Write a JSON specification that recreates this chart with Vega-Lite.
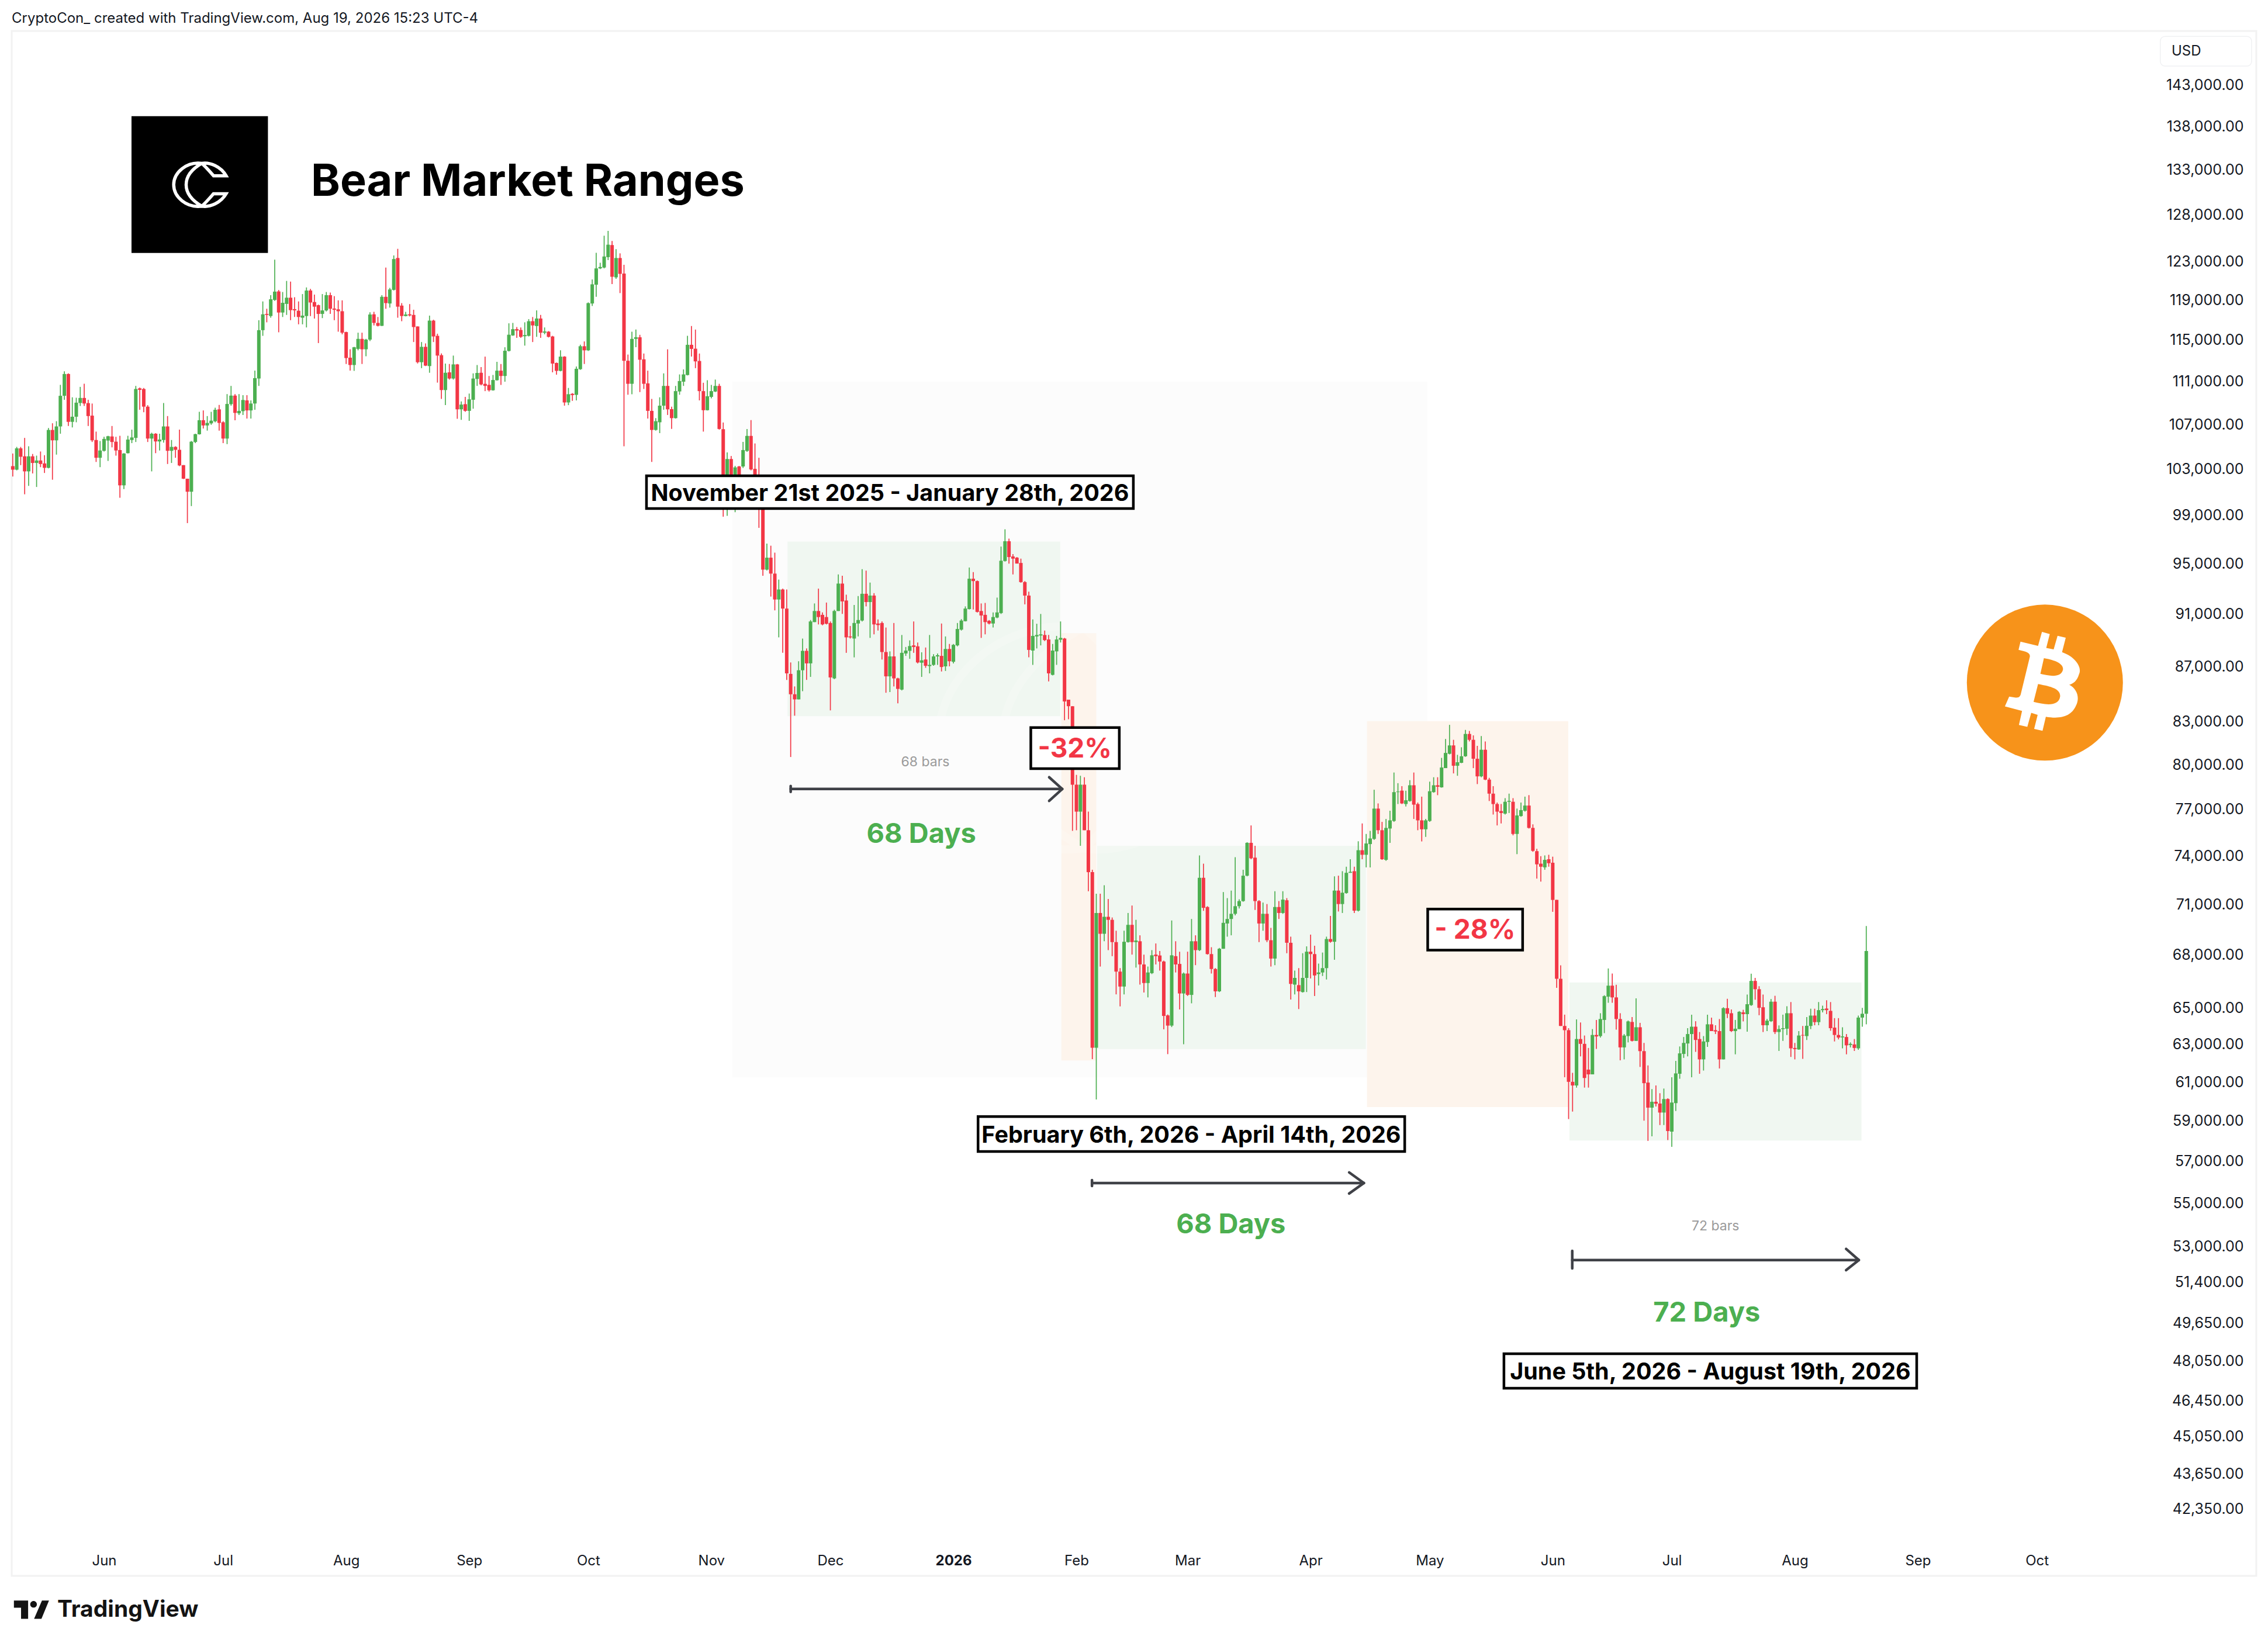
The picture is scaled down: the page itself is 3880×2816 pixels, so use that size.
{
"$schema":"https://vega.github.io/schema/vega-lite/v6.json",
"description":"Bitcoin daily candles with bear market ranges",
"width":3840,"height":2643,
"autosize":"none",
"padding":{"left":20,"top":53,"right":20,"bottom":120},
"background":"white",
"view":{"stroke":"#f2f2f2","strokeWidth":3,"fill":"white"},
"config":{"font":"Inter","text":{"font":"Inter"}},
"datasets":{
"candles":[
{"d":"2025-05-09","o":103150,"h":104270,"l":102240,"c":102840},
{"d":"2025-05-10","o":102840,"h":104860,"l":102780,"c":104730},
{"d":"2025-05-11","o":104730,"h":104860,"l":103240,"c":103980},
{"d":"2025-05-12","o":104020,"h":105670,"l":100700,"c":102690},
{"d":"2025-05-13","o":102690,"h":104920,"l":101420,"c":104020},
{"d":"2025-05-14","o":104020,"h":104230,"l":102510,"c":103430},
{"d":"2025-05-15","o":103430,"h":104080,"l":101330,"c":103650},
{"d":"2025-05-16","o":103650,"h":104450,"l":103060,"c":103340},
{"d":"2025-05-17","o":103390,"h":104120,"l":102550,"c":103000},
{"d":"2025-05-18","o":103000,"h":106560,"l":102960,"c":106390},
{"d":"2025-05-19","o":106390,"h":107000,"l":101960,"c":105450},
{"d":"2025-05-20","o":105450,"h":107190,"l":104170,"c":106710},
{"d":"2025-05-21","o":106710,"h":110570,"l":106050,"c":109540},
{"d":"2025-05-22","o":109540,"h":111860,"l":109170,"c":111600},
{"d":"2025-05-23","o":111600,"h":111660,"l":106750,"c":107130},
{"d":"2025-05-24","o":107130,"h":109400,"l":106620,"c":107600},
{"d":"2025-05-25","o":107600,"h":109360,"l":107090,"c":108900},
{"d":"2025-05-26","o":108870,"h":110380,"l":108590,"c":109340},
{"d":"2025-05-27","o":109340,"h":110670,"l":108590,"c":108820},
{"d":"2025-05-28","o":108860,"h":109170,"l":106750,"c":107660},
{"d":"2025-05-29","o":107700,"h":108820,"l":105300,"c":105450},
{"d":"2025-05-30","o":105480,"h":106240,"l":103520,"c":103890},
{"d":"2025-05-31","o":103890,"h":105390,"l":103060,"c":104540},
{"d":"2025-06-01","o":104510,"h":105770,"l":104450,"c":105580},
{"d":"2025-06-02","o":105430,"h":105860,"l":103610,"c":105820},
{"d":"2025-06-03","o":105800,"h":106750,"l":104820,"c":105300},
{"d":"2025-06-04","o":105330,"h":105770,"l":104080,"c":104540},
{"d":"2025-06-05","o":104580,"h":105860,"l":100400,"c":101470},
{"d":"2025-06-06","o":101470,"h":104300,"l":101150,"c":104270},
{"d":"2025-06-07","o":104300,"h":105860,"l":104270,"c":105520},
{"d":"2025-06-08","o":105480,"h":106420,"l":105200,"c":105710},
{"d":"2025-06-09","o":105670,"h":110470,"l":105300,"c":110180},
{"d":"2025-06-10","o":110240,"h":110320,"l":108240,"c":110100},
{"d":"2025-06-11","o":110180,"h":110280,"l":108010,"c":108530},
{"d":"2025-06-12","o":108530,"h":108670,"l":105300,"c":105610},
{"d":"2025-06-13","o":105610,"h":106140,"l":102690,"c":106050},
{"d":"2025-06-14","o":106050,"h":106100,"l":104300,"c":105350},
{"d":"2025-06-15","o":105350,"h":106050,"l":104540,"c":105520},
{"d":"2025-06-16","o":105480,"h":108860,"l":105240,"c":106710},
{"d":"2025-06-17","o":106710,"h":107660,"l":103340,"c":104510},
{"d":"2025-06-18","o":104510,"h":105480,"l":103430,"c":104860},
{"d":"2025-06-19","o":104860,"h":104920,"l":103890,"c":104600},
{"d":"2025-06-20","o":104600,"h":106420,"l":103150,"c":103210},
{"d":"2025-06-21","o":103240,"h":103240,"l":102020,"c":102050},
{"d":"2025-06-22","o":102050,"h":102050,"l":98250,"c":100920},
{"d":"2025-06-23","o":100920,"h":105390,"l":99690,"c":105330},
{"d":"2025-06-24","o":105300,"h":106050,"l":105200,"c":106010},
{"d":"2025-06-25","o":106000,"h":108050,"l":105970,"c":107280},
{"d":"2025-06-26","o":107280,"h":108180,"l":106520,"c":106800},
{"d":"2025-06-27","o":106800,"h":107660,"l":106330,"c":107030},
{"d":"2025-06-28","o":106990,"h":108050,"l":106860,"c":107240},
{"d":"2025-06-29","o":107180,"h":108430,"l":107090,"c":108240},
{"d":"2025-06-30","o":108280,"h":108690,"l":106330,"c":107030},
{"d":"2025-07-01","o":107090,"h":107190,"l":105200,"c":105610},
{"d":"2025-07-02","o":105610,"h":109700,"l":105110,"c":108780},
{"d":"2025-07-03","o":108760,"h":110470,"l":108620,"c":109560},
{"d":"2025-07-04","o":109560,"h":109700,"l":107280,"c":107950},
{"d":"2025-07-05","o":107910,"h":109700,"l":107760,"c":108140},
{"d":"2025-07-06","o":108110,"h":109600,"l":107760,"c":109150},
{"d":"2025-07-07","o":109110,"h":109600,"l":107430,"c":108180},
{"d":"2025-07-08","o":108180,"h":109110,"l":107430,"c":108820},
{"d":"2025-07-09","o":108820,"h":111920,"l":108240,"c":111210},
{"d":"2025-07-10","o":111170,"h":116850,"l":110470,"c":115860},
{"d":"2025-07-11","o":115860,"h":118740,"l":115300,"c":117440},
{"d":"2025-07-12","o":117480,"h":118000,"l":116640,"c":117380},
{"d":"2025-07-13","o":117270,"h":119380,"l":117100,"c":118960},
{"d":"2025-07-14","o":118890,"h":123060,"l":118790,"c":119740},
{"d":"2025-07-15","o":119760,"h":119910,"l":115650,"c":117620},
{"d":"2025-07-16","o":117620,"h":119700,"l":117170,"c":118600},
{"d":"2025-07-17","o":118490,"h":120840,"l":117380,"c":119120},
{"d":"2025-07-18","o":119120,"h":120770,"l":116850,"c":117860},
{"d":"2025-07-19","o":117960,"h":119170,"l":117170,"c":117840},
{"d":"2025-07-20","o":117800,"h":118740,"l":116440,"c":117170},
{"d":"2025-07-21","o":117100,"h":119490,"l":116440,"c":117310},
{"d":"2025-07-22","o":117270,"h":120170,"l":116130,"c":119850},
{"d":"2025-07-23","o":119850,"h":120020,"l":117270,"c":118640},
{"d":"2025-07-24","o":118680,"h":119430,"l":117020,"c":118210},
{"d":"2025-07-25","o":118360,"h":118420,"l":114590,"c":117480},
{"d":"2025-07-26","o":117480,"h":119490,"l":117060,"c":117830},
{"d":"2025-07-27","o":117830,"h":119700,"l":117730,"c":119380},
{"d":"2025-07-28","o":119380,"h":119640,"l":117480,"c":118000},
{"d":"2025-07-29","o":118020,"h":119280,"l":116850,"c":117900},
{"d":"2025-07-30","o":117940,"h":118850,"l":115710,"c":117750},
{"d":"2025-07-31","o":117750,"h":118850,"l":115450,"c":115610},
{"d":"2025-08-01","o":115670,"h":115710,"l":112560,"c":113130},
{"d":"2025-08-02","o":113170,"h":113980,"l":111920,"c":112460},
{"d":"2025-08-03","o":112460,"h":114220,"l":111900,"c":114180},
{"d":"2025-08-04","o":114020,"h":115610,"l":113880,"c":115000},
{"d":"2025-08-05","o":115000,"h":115610,"l":112560,"c":113980},
{"d":"2025-08-06","o":113980,"h":115000,"l":113310,"c":114930},
{"d":"2025-08-07","o":114930,"h":117650,"l":114790,"c":117420},
{"d":"2025-08-08","o":117440,"h":117690,"l":116330,"c":116580},
{"d":"2025-08-09","o":116580,"h":117170,"l":116230,"c":116290},
{"d":"2025-08-10","o":116290,"h":119380,"l":116270,"c":119210},
{"d":"2025-08-11","o":119210,"h":122230,"l":118000,"c":118570},
{"d":"2025-08-12","o":118530,"h":120130,"l":118110,"c":119960},
{"d":"2025-08-13","o":119920,"h":123500,"l":119850,"c":123120},
{"d":"2025-08-14","o":123230,"h":124200,"l":117100,"c":118210},
{"d":"2025-08-15","o":118320,"h":118570,"l":116750,"c":117270},
{"d":"2025-08-16","o":117270,"h":117690,"l":117230,"c":117420},
{"d":"2025-08-17","o":117440,"h":118470,"l":117230,"c":117330},
{"d":"2025-08-18","o":117380,"h":117900,"l":114690,"c":116170},
{"d":"2025-08-19","o":116230,"h":116230,"l":112610,"c":112730},
{"d":"2025-08-20","o":112730,"h":114690,"l":112160,"c":114220},
{"d":"2025-08-21","o":114220,"h":114550,"l":112360,"c":112400},
{"d":"2025-08-22","o":112360,"h":117310,"l":111720,"c":116810},
{"d":"2025-08-23","o":116810,"h":116900,"l":114690,"c":115240},
{"d":"2025-08-24","o":115300,"h":115510,"l":110780,"c":113370},
{"d":"2025-08-25","o":113410,"h":113580,"l":109250,"c":110080},
{"d":"2025-08-26","o":110080,"h":112600,"l":108670,"c":111720},
{"d":"2025-08-27","o":111760,"h":112560,"l":111070,"c":111170},
{"d":"2025-08-28","o":111170,"h":113370,"l":111070,"c":112520},
{"d":"2025-08-29","o":112520,"h":112560,"l":107410,"c":108280},
{"d":"2025-08-30","o":108280,"h":109020,"l":107320,"c":108720},
{"d":"2025-08-31","o":108760,"h":109440,"l":108050,"c":108140},
{"d":"2025-09-01","o":108140,"h":109750,"l":107220,"c":109210},
{"d":"2025-09-02","o":109170,"h":111660,"l":108340,"c":111170},
{"d":"2025-09-03","o":111130,"h":112460,"l":110470,"c":111700},
{"d":"2025-09-04","o":111720,"h":112260,"l":110530,"c":110610},
{"d":"2025-09-05","o":110670,"h":113270,"l":109980,"c":110470},
{"d":"2025-09-06","o":110570,"h":111410,"l":109940,"c":110060},
{"d":"2025-09-07","o":110060,"h":111510,"l":110020,"c":111030},
{"d":"2025-09-08","o":111010,"h":112770,"l":110970,"c":111920},
{"d":"2025-09-09","o":111920,"h":112560,"l":110570,"c":111410},
{"d":"2025-09-10","o":111410,"h":114180,"l":110870,"c":113840},
{"d":"2025-09-11","o":113820,"h":116540,"l":113770,"c":115410},
{"d":"2025-09-12","o":115340,"h":116580,"l":115300,"c":115960},
{"d":"2025-09-13","o":115960,"h":116170,"l":115100,"c":115820},
{"d":"2025-09-14","o":115880,"h":116130,"l":115100,"c":115200},
{"d":"2025-09-15","o":115260,"h":116640,"l":114340,"c":115380},
{"d":"2025-09-16","o":115300,"h":116960,"l":115240,"c":116750},
{"d":"2025-09-17","o":116750,"h":117170,"l":114690,"c":116330},
{"d":"2025-09-18","o":116270,"h":117830,"l":115200,"c":117020},
{"d":"2025-09-19","o":117020,"h":117380,"l":115100,"c":115610},
{"d":"2025-09-20","o":115610,"h":116130,"l":115450,"c":115730},
{"d":"2025-09-21","o":115710,"h":115770,"l":115140,"c":115200},
{"d":"2025-09-22","o":115240,"h":115300,"l":111760,"c":112600},
{"d":"2025-09-23","o":112660,"h":112700,"l":111530,"c":111900},
{"d":"2025-09-24","o":111900,"h":113880,"l":111860,"c":113270},
{"d":"2025-09-25","o":113270,"h":113310,"l":108620,"c":108920},
{"d":"2025-09-26","o":108920,"h":110280,"l":108670,"c":109690},
{"d":"2025-09-27","o":109730,"h":109790,"l":109070,"c":109610},
{"d":"2025-09-28","o":109630,"h":112320,"l":109110,"c":112100},
{"d":"2025-09-29","o":112060,"h":114430,"l":112000,"c":114280},
{"d":"2025-09-30","o":114280,"h":114750,"l":112560,"c":113880},
{"d":"2025-10-01","o":113880,"h":118640,"l":113820,"c":118570},
{"d":"2025-10-02","o":118530,"h":120990,"l":118280,"c":120490},
{"d":"2025-10-03","o":120450,"h":123780,"l":119210,"c":122140},
{"d":"2025-10-04","o":122140,"h":122730,"l":122070,"c":122290},
{"d":"2025-10-05","o":122230,"h":125600,"l":122140,"c":123390},
{"d":"2025-10-06","o":123320,"h":126120,"l":123010,"c":124640},
{"d":"2025-10-07","o":124600,"h":125040,"l":120510,"c":121270},
{"d":"2025-10-08","o":121210,"h":124160,"l":121060,"c":123230},
{"d":"2025-10-09","o":123230,"h":123720,"l":119590,"c":121570},
{"d":"2025-10-10","o":121600,"h":122510,"l":104920,"c":112870},
{"d":"2025-10-11","o":112870,"h":113470,"l":109640,"c":110670},
{"d":"2025-10-12","o":110670,"h":115710,"l":109690,"c":115000},
{"d":"2025-10-13","o":115000,"h":115920,"l":114180,"c":115160},
{"d":"2025-10-14","o":115160,"h":115400,"l":109890,"c":112970},
{"d":"2025-10-15","o":113010,"h":113570,"l":110180,"c":110670},
{"d":"2025-10-16","o":110710,"h":111920,"l":107430,"c":108140},
{"d":"2025-10-17","o":108140,"h":109250,"l":103520,"c":106390},
{"d":"2025-10-18","o":106390,"h":107470,"l":106330,"c":107190},
{"d":"2025-10-19","o":107090,"h":109400,"l":106100,"c":108620},
{"d":"2025-10-20","o":108620,"h":111660,"l":108240,"c":110470},
{"d":"2025-10-21","o":110470,"h":113980,"l":107760,"c":108280},
{"d":"2025-10-22","o":108300,"h":108530,"l":106480,"c":107470},
{"d":"2025-10-23","o":107470,"h":110470,"l":107430,"c":109980},
{"d":"2025-10-24","o":109950,"h":111560,"l":109640,"c":110930},
{"d":"2025-10-25","o":110870,"h":112040,"l":110470,"c":111560},
{"d":"2025-10-26","o":111500,"h":115300,"l":111470,"c":114420},
{"d":"2025-10-27","o":114420,"h":116270,"l":113270,"c":114020},
{"d":"2025-10-28","o":114040,"h":115920,"l":112160,"c":112810},
{"d":"2025-10-29","o":112850,"h":113570,"l":109110,"c":109980},
{"d":"2025-10-30","o":109980,"h":110770,"l":106240,"c":108200},
{"d":"2025-10-31","o":108200,"h":111010,"l":108180,"c":109500},
{"d":"2025-11-01","o":109440,"h":110570,"l":109300,"c":109980},
{"d":"2025-11-02","o":109940,"h":111070,"l":109890,"c":110470},
{"d":"2025-11-03","o":110470,"h":110670,"l":106420,"c":106480},
{"d":"2025-11-04","o":106460,"h":107070,"l":98790,"c":102000},
{"d":"2025-11-05","o":102000,"h":104370,"l":98860,"c":103780},
{"d":"2025-11-06","o":103780,"h":104050,"l":100180,"c":102390},
{"d":"2025-11-07","o":102390,"h":103170,"l":99170,"c":103040},
{"d":"2025-11-08","o":103120,"h":103170,"l":102000,"c":102340},
{"d":"2025-11-09","o":103120,"h":105310,"l":102990,"c":104580},
{"d":"2025-11-10","o":104500,"h":106470,"l":104420,"c":105850},
{"d":"2025-11-11","o":105850,"h":107290,"l":102780,"c":102860},
{"d":"2025-11-12","o":102910,"h":105170,"l":102260,"c":102390},
{"d":"2025-11-13","o":102390,"h":103890,"l":97850,"c":101480},
{"d":"2025-11-14","o":101480,"h":102260,"l":93930,"c":94420},
{"d":"2025-11-15","o":94420,"h":96540,"l":94350,"c":95390},
{"d":"2025-11-16","o":95390,"h":96370,"l":92270,"c":94100},
{"d":"2025-11-17","o":94100,"h":95800,"l":91190,"c":92040},
{"d":"2025-11-18","o":92040,"h":93620,"l":89110,"c":92830},
{"d":"2025-11-19","o":92830,"h":92900,"l":87940,"c":91330},
{"d":"2025-11-20","o":91330,"h":92830,"l":85930,"c":86410},
{"d":"2025-11-21","o":86370,"h":87220,"l":80450,"c":84880},
{"d":"2025-11-22","o":84880,"h":85450,"l":83340,"c":84510},
{"d":"2025-11-23","o":84510,"h":87310,"l":84510,"c":86640},
{"d":"2025-11-24","o":86640,"h":89020,"l":85100,"c":88090},
{"d":"2025-11-25","o":88090,"h":88270,"l":85930,"c":87150},
{"d":"2025-11-26","o":87150,"h":90440,"l":86150,"c":90330},
{"d":"2025-11-27","o":90280,"h":91730,"l":90280,"c":91140},
{"d":"2025-11-28","o":91140,"h":92900,"l":90100,"c":90670},
{"d":"2025-11-29","o":90840,"h":91030,"l":90030,"c":90100},
{"d":"2025-11-30","o":90670,"h":91800,"l":90100,"c":90150},
{"d":"2025-12-01","o":90210,"h":90330,"l":83720,"c":86110},
{"d":"2025-12-02","o":86040,"h":91240,"l":85980,"c":91140},
{"d":"2025-12-03","o":91140,"h":94030,"l":91140,"c":93300},
{"d":"2025-12-04","o":93300,"h":93930,"l":90910,"c":91890},
{"d":"2025-12-05","o":91960,"h":92420,"l":87940,"c":89110},
{"d":"2025-12-06","o":89180,"h":89980,"l":89020,"c":89110},
{"d":"2025-12-07","o":89020,"h":91610,"l":87600,"c":90210},
{"d":"2025-12-08","o":90170,"h":92310,"l":89180,"c":90440},
{"d":"2025-12-09","o":90400,"h":94460,"l":90330,"c":92490},
{"d":"2025-12-10","o":92490,"h":94340,"l":91500,"c":91840},
{"d":"2025-12-11","o":91840,"h":93380,"l":89070,"c":92350},
{"d":"2025-12-12","o":92350,"h":92540,"l":89340,"c":90100},
{"d":"2025-12-13","o":90170,"h":90490,"l":89630,"c":90050},
{"d":"2025-12-14","o":90210,"h":90330,"l":87440,"c":88000},
{"d":"2025-12-15","o":88000,"h":89860,"l":84990,"c":86190},
{"d":"2025-12-16","o":86190,"h":88050,"l":85040,"c":87670},
{"d":"2025-12-17","o":87670,"h":90210,"l":85450,"c":86040},
{"d":"2025-12-18","o":86040,"h":86090,"l":84230,"c":85270},
{"d":"2025-12-19","o":85220,"h":89290,"l":85160,"c":87940},
{"d":"2025-12-20","o":87890,"h":88380,"l":87710,"c":88110},
{"d":"2025-12-21","o":88090,"h":88880,"l":87490,"c":88450},
{"d":"2025-12-22","o":88500,"h":90330,"l":87940,"c":88380},
{"d":"2025-12-23","o":88430,"h":88720,"l":87150,"c":87220},
{"d":"2025-12-24","o":87200,"h":87980,"l":86150,"c":87380},
{"d":"2025-12-25","o":87440,"h":88340,"l":86820,"c":86970},
{"d":"2025-12-26","o":86950,"h":89290,"l":86410,"c":87040},
{"d":"2025-12-27","o":87040,"h":87830,"l":86970,"c":87670},
{"d":"2025-12-28","o":87670,"h":87890,"l":87040,"c":87760},
{"d":"2025-12-29","o":87710,"h":90170,"l":86550,"c":86880},
{"d":"2025-12-30","o":86930,"h":89180,"l":86590,"c":88230},
{"d":"2025-12-31","o":88230,"h":88610,"l":86930,"c":87310},
{"d":"2026-01-01","o":87270,"h":88610,"l":87150,"c":88540},
{"d":"2026-01-02","o":88500,"h":90210,"l":88430,"c":89750},
{"d":"2026-01-03","o":89700,"h":90510,"l":89630,"c":90400},
{"d":"2026-01-04","o":90350,"h":91500,"l":90330,"c":91330},
{"d":"2026-01-05","o":91290,"h":94590,"l":91260,"c":93690},
{"d":"2026-01-06","o":93690,"h":94220,"l":91260,"c":93500},
{"d":"2026-01-07","o":93500,"h":93550,"l":91020,"c":91070},
{"d":"2026-01-08","o":91140,"h":91730,"l":89070,"c":90790},
{"d":"2026-01-09","o":90840,"h":91770,"l":89340,"c":90280},
{"d":"2026-01-10","o":90380,"h":90440,"l":90100,"c":90170},
{"d":"2026-01-11","o":90170,"h":91030,"l":89860,"c":90670},
{"d":"2026-01-12","o":90630,"h":92190,"l":90580,"c":91030},
{"d":"2026-01-13","o":90980,"h":96300,"l":90910,"c":95140},
{"d":"2026-01-14","o":95120,"h":97730,"l":95070,"c":96740},
{"d":"2026-01-15","o":96740,"h":96960,"l":94910,"c":95440},
{"d":"2026-01-16","o":95490,"h":95680,"l":94030,"c":95310},
{"d":"2026-01-17","o":95390,"h":95440,"l":94910,"c":94910},
{"d":"2026-01-18","o":94960,"h":95310,"l":93370,"c":93420},
{"d":"2026-01-19","o":93420,"h":93500,"l":91660,"c":92350},
{"d":"2026-01-20","o":92350,"h":92660,"l":87600,"c":88160},
{"d":"2026-01-21","o":88110,"h":90490,"l":87040,"c":89220},
{"d":"2026-01-22","o":89180,"h":90150,"l":88270,"c":89290},
{"d":"2026-01-23","o":89250,"h":90910,"l":88500,"c":89340},
{"d":"2026-01-24","o":89290,"h":89630,"l":88830,"c":88900},
{"d":"2026-01-25","o":88950,"h":89290,"l":85820,"c":86410},
{"d":"2026-01-26","o":86300,"h":88610,"l":86260,"c":88110},
{"d":"2026-01-27","o":88050,"h":89220,"l":87040,"c":88950},
{"d":"2026-01-28","o":88930,"h":90330,"l":88720,"c":89070},
{"d":"2026-01-29","o":89020,"h":89070,"l":83020,"c":84360},
{"d":"2026-01-30","o":84490,"h":84490,"l":83090,"c":84020},
{"d":"2026-01-31","o":84020,"h":84020,"l":75530,"c":78570},
{"d":"2026-02-01","o":78570,"h":79230,"l":75570,"c":76780},
{"d":"2026-02-02","o":76780,"h":79170,"l":74570,"c":78570},
{"d":"2026-02-03","o":78570,"h":79070,"l":75570,"c":75570},
{"d":"2026-02-04","o":75570,"h":76780,"l":71730,"c":72910},
{"d":"2026-02-05","o":72910,"h":73060,"l":62140,"c":62750},
{"d":"2026-02-06","o":62750,"h":71580,"l":60040,"c":70410},
{"d":"2026-02-07","o":70410,"h":71580,"l":67260,"c":69170},
{"d":"2026-02-08","o":69170,"h":72100,"l":68730,"c":70180},
{"d":"2026-02-09","o":70180,"h":71260,"l":68210,"c":70000},
{"d":"2026-02-10","o":70000,"h":70140,"l":67860,"c":68680},
{"d":"2026-02-11","o":68680,"h":69350,"l":65680,"c":66970},
{"d":"2026-02-12","o":66970,"h":67170,"l":65010,"c":66120},
{"d":"2026-02-13","o":66120,"h":69350,"l":65680,"c":68700},
{"d":"2026-02-14","o":68680,"h":70410,"l":68650,"c":69700},
{"d":"2026-02-15","o":69700,"h":70860,"l":67950,"c":68680},
{"d":"2026-02-16","o":68680,"h":70000,"l":67200,"c":68770},
{"d":"2026-02-17","o":68730,"h":69080,"l":66230,"c":67380},
{"d":"2026-02-18","o":67380,"h":67950,"l":65780,"c":66320},
{"d":"2026-02-19","o":66320,"h":67260,"l":65510,"c":66920},
{"d":"2026-02-20","o":66880,"h":68210,"l":66830,"c":67910},
{"d":"2026-02-21","o":67950,"h":68600,"l":67380,"c":67860},
{"d":"2026-02-22","o":67900,"h":68160,"l":67030,"c":67550},
{"d":"2026-02-23","o":67550,"h":67600,"l":63750,"c":64480},
{"d":"2026-02-24","o":64510,"h":64560,"l":62410,"c":63950},
{"d":"2026-02-25","o":63950,"h":69960,"l":63870,"c":67910},
{"d":"2026-02-26","o":67860,"h":68730,"l":66920,"c":67380},
{"d":"2026-02-27","o":67410,"h":68120,"l":64840,"c":65730},
{"d":"2026-02-28","o":65730,"h":66920,"l":62940,"c":66860},
{"d":"2026-03-01","o":66860,"h":68120,"l":65590,"c":65650},
{"d":"2026-03-02","o":65650,"h":70050,"l":65180,"c":68730},
{"d":"2026-03-03","o":68730,"h":69080,"l":67340,"c":68210},
{"d":"2026-03-04","o":68210,"h":73960,"l":68160,"c":72560},
{"d":"2026-03-05","o":72560,"h":73440,"l":70540,"c":70720},
{"d":"2026-03-06","o":70770,"h":70820,"l":67950,"c":67980},
{"d":"2026-03-07","o":67980,"h":68380,"l":66860,"c":67120},
{"d":"2026-03-08","o":67120,"h":67170,"l":65530,"c":65850},
{"d":"2026-03-09","o":65850,"h":68340,"l":65810,"c":68290},
{"d":"2026-03-10","o":68290,"h":71680,"l":68290,"c":69820},
{"d":"2026-03-11","o":69780,"h":71310,"l":69000,"c":70050},
{"d":"2026-03-12","o":70050,"h":71770,"l":69080,"c":70360},
{"d":"2026-03-13","o":70360,"h":73850,"l":70270,"c":70820},
{"d":"2026-03-14","o":70820,"h":71240,"l":70680,"c":71130},
{"d":"2026-03-15","o":71130,"h":73060,"l":71090,"c":72690},
{"d":"2026-03-16","o":72690,"h":74800,"l":72650,"c":74760},
{"d":"2026-03-17","o":74760,"h":75880,"l":73720,"c":73780},
{"d":"2026-03-18","o":73820,"h":74570,"l":70590,"c":71130},
{"d":"2026-03-19","o":71130,"h":71190,"l":68680,"c":69780},
{"d":"2026-03-20","o":69780,"h":71040,"l":69350,"c":70360},
{"d":"2026-03-21","o":70360,"h":70950,"l":68680,"c":68790},
{"d":"2026-03-22","o":68790,"h":69520,"l":67260,"c":67720},
{"d":"2026-03-23","o":67720,"h":71730,"l":67340,"c":70770},
{"d":"2026-03-24","o":70770,"h":71130,"l":70050,"c":70410},
{"d":"2026-03-25","o":70410,"h":71730,"l":70360,"c":71220},
{"d":"2026-03-26","o":71180,"h":71310,"l":68030,"c":68640},
{"d":"2026-03-27","o":68640,"h":69000,"l":65390,"c":66270},
{"d":"2026-03-28","o":66230,"h":67030,"l":65680,"c":66610},
{"d":"2026-03-29","o":66200,"h":67170,"l":64860,"c":65850},
{"d":"2026-03-30","o":65810,"h":68030,"l":65780,"c":66610},
{"d":"2026-03-31","o":66610,"h":68430,"l":65810,"c":68120},
{"d":"2026-04-01","o":68120,"h":69120,"l":66580,"c":67980},
{"d":"2026-04-02","o":67980,"h":68470,"l":65590,"c":66750},
{"d":"2026-04-03","o":66830,"h":67430,"l":66180,"c":66920},
{"d":"2026-04-04","o":66920,"h":68070,"l":66720,"c":67170},
{"d":"2026-04-05","o":67170,"h":69000,"l":66520,"c":68860},
{"d":"2026-04-06","o":68860,"h":70230,"l":68650,"c":68700},
{"d":"2026-04-07","o":68700,"h":72650,"l":67650,"c":71770},
{"d":"2026-04-08","o":71770,"h":72690,"l":70500,"c":70950},
{"d":"2026-04-09","o":70950,"h":72970,"l":70410,"c":71640},
{"d":"2026-04-10","o":71620,"h":73250,"l":71580,"c":72870},
{"d":"2026-04-11","o":72870,"h":73720,"l":72870,"c":72930},
{"d":"2026-04-12","o":72970,"h":73250,"l":70410,"c":70550},
{"d":"2026-04-13","o":70550,"h":74860,"l":70500,"c":74290},
{"d":"2026-04-14","o":74290,"h":76010,"l":73720,"c":74000},
{"d":"2026-04-15","o":74000,"h":75330,"l":73210,"c":74720},
{"d":"2026-04-16","o":74680,"h":75530,"l":73210,"c":75040},
{"d":"2026-04-17","o":75010,"h":78230,"l":74950,"c":76980},
{"d":"2026-04-18","o":76980,"h":77320,"l":75330,"c":75570},
{"d":"2026-04-19","o":75570,"h":76110,"l":73680,"c":73720},
{"d":"2026-04-20","o":73680,"h":76300,"l":73620,"c":75720},
{"d":"2026-04-21","o":75680,"h":76840,"l":74760,"c":76210},
{"d":"2026-04-22","o":76170,"h":79390,"l":76110,"c":78070},
{"d":"2026-04-23","o":78070,"h":78670,"l":77280,"c":78110},
{"d":"2026-04-24","o":78170,"h":78470,"l":77280,"c":77320},
{"d":"2026-04-25","o":77280,"h":78170,"l":77120,"c":77530},
{"d":"2026-04-26","o":77480,"h":78870,"l":77440,"c":78530},
{"d":"2026-04-27","o":78530,"h":79390,"l":76300,"c":77240},
{"d":"2026-04-28","o":77280,"h":77380,"l":75570,"c":76210},
{"d":"2026-04-29","o":76210,"h":77770,"l":74850,"c":75630},
{"d":"2026-04-30","o":75630,"h":76300,"l":75140,"c":76210},
{"d":"2026-05-01","o":76170,"h":78770,"l":76110,"c":78130},
{"d":"2026-05-02","o":78070,"h":79070,"l":78030,"c":78530},
{"d":"2026-05-03","o":78530,"h":79070,"l":77870,"c":78430},
{"d":"2026-05-04","o":78390,"h":80390,"l":78370,"c":79730},
{"d":"2026-05-05","o":79690,"h":81700,"l":79690,"c":80730},
{"d":"2026-05-06","o":80670,"h":82690,"l":80630,"c":81250},
{"d":"2026-05-07","o":81250,"h":81640,"l":79330,"c":79850},
{"d":"2026-05-08","o":79850,"h":80600,"l":79170,"c":80090},
{"d":"2026-05-09","o":80050,"h":81120,"l":80030,"c":80500},
{"d":"2026-05-10","o":80500,"h":82330,"l":80460,"c":82050},
{"d":"2026-05-11","o":82050,"h":82260,"l":81530,"c":81640},
{"d":"2026-05-12","o":81640,"h":81950,"l":79690,"c":80330},
{"d":"2026-05-13","o":80330,"h":81220,"l":78610,"c":79130},
{"d":"2026-05-14","o":79130,"h":81900,"l":79070,"c":80950},
{"d":"2026-05-15","o":80950,"h":81530,"l":78870,"c":78910},
{"d":"2026-05-16","o":78910,"h":79030,"l":77480,"c":77970},
{"d":"2026-05-17","o":77970,"h":78470,"l":76590,"c":77280},
{"d":"2026-05-18","o":77280,"h":77380,"l":75880,"c":76780},
{"d":"2026-05-19","o":76820,"h":77280,"l":76010,"c":76690},
{"d":"2026-05-20","o":76650,"h":77670,"l":76590,"c":77430},
{"d":"2026-05-21","o":77430,"h":77970,"l":76690,"c":77490},
{"d":"2026-05-22","o":77430,"h":77670,"l":75240,"c":75330},
{"d":"2026-05-23","o":75330,"h":76980,"l":74040,"c":76530},
{"d":"2026-05-24","o":76490,"h":77380,"l":76450,"c":76880},
{"d":"2026-05-25","o":76840,"h":77770,"l":76780,"c":77180},
{"d":"2026-05-26","o":77180,"h":77870,"l":75680,"c":75720},
{"d":"2026-05-27","o":75720,"h":75950,"l":74190,"c":74250},
{"d":"2026-05-28","o":74230,"h":74380,"l":72510,"c":73400},
{"d":"2026-05-29","o":73440,"h":73910,"l":72320,"c":73250},
{"d":"2026-05-30","o":73210,"h":73960,"l":73060,"c":73680},
{"d":"2026-05-31","o":73720,"h":74000,"l":73250,"c":73470},
{"d":"2026-06-01","o":73500,"h":73880,"l":70480,"c":71200},
{"d":"2026-06-02","o":71200,"h":71200,"l":66050,"c":66560},
{"d":"2026-06-03","o":66560,"h":67330,"l":63930,"c":63930},
{"d":"2026-06-04","o":63930,"h":64550,"l":61190,"c":63700},
{"d":"2026-06-05","o":63700,"h":63810,"l":59040,"c":60950},
{"d":"2026-06-06","o":60950,"h":61420,"l":59420,"c":60760},
{"d":"2026-06-07","o":60760,"h":64290,"l":60650,"c":63220},
{"d":"2026-06-08","o":63220,"h":64120,"l":62290,"c":62960},
{"d":"2026-06-09","o":62960,"h":63410,"l":60650,"c":61150},
{"d":"2026-06-10","o":61590,"h":62740,"l":60650,"c":61340},
{"d":"2026-06-11","o":61340,"h":63760,"l":61340,"c":63440},
{"d":"2026-06-12","o":63440,"h":64260,"l":62690,"c":63360},
{"d":"2026-06-13","o":63380,"h":64630,"l":63300,"c":64310},
{"d":"2026-06-14","o":64260,"h":65630,"l":63540,"c":65580},
{"d":"2026-06-15","o":65550,"h":67150,"l":65210,"c":66170},
{"d":"2026-06-16","o":66170,"h":66860,"l":65210,"c":65510},
{"d":"2026-06-17","o":65510,"h":66220,"l":63730,"c":64310},
{"d":"2026-06-18","o":64310,"h":64630,"l":62080,"c":62770},
{"d":"2026-06-19","o":62770,"h":63490,"l":62130,"c":63410},
{"d":"2026-06-20","o":63380,"h":64230,"l":63040,"c":64180},
{"d":"2026-06-21","o":64150,"h":64420,"l":63090,"c":63120},
{"d":"2026-06-22","o":63120,"h":65460,"l":63120,"c":63860},
{"d":"2026-06-23","o":63860,"h":64100,"l":61730,"c":62570},
{"d":"2026-06-24","o":62570,"h":63010,"l":58960,"c":60880},
{"d":"2026-06-25","o":60910,"h":61810,"l":57950,"c":59620},
{"d":"2026-06-26","o":59620,"h":60570,"l":58180,"c":59920},
{"d":"2026-06-27","o":59920,"h":60760,"l":59680,"c":59820},
{"d":"2026-06-28","o":59830,"h":60360,"l":58740,"c":59370},
{"d":"2026-06-29","o":59370,"h":60600,"l":58740,"c":60060},
{"d":"2026-06-30","o":60060,"h":60100,"l":57990,"c":58440},
{"d":"2026-07-01","o":58410,"h":61190,"l":57660,"c":59880},
{"d":"2026-07-02","o":59850,"h":62050,"l":59450,"c":61390},
{"d":"2026-07-03","o":61370,"h":62820,"l":61110,"c":62450},
{"d":"2026-07-04","o":62420,"h":63330,"l":62210,"c":63010},
{"d":"2026-07-05","o":62980,"h":63810,"l":62290,"c":63490},
{"d":"2026-07-06","o":63490,"h":64550,"l":61190,"c":63890},
{"d":"2026-07-07","o":63890,"h":64190,"l":62530,"c":63170},
{"d":"2026-07-08","o":63220,"h":63600,"l":61370,"c":62130},
{"d":"2026-07-09","o":62130,"h":63380,"l":61540,"c":63090},
{"d":"2026-07-10","o":63060,"h":64550,"l":62800,"c":64020},
{"d":"2026-07-11","o":64020,"h":64390,"l":63650,"c":63650},
{"d":"2026-07-12","o":63700,"h":63970,"l":63490,"c":63630},
{"d":"2026-07-13","o":63650,"h":64310,"l":61650,"c":62130},
{"d":"2026-07-14","o":62130,"h":64960,"l":62130,"c":64910},
{"d":"2026-07-15","o":64910,"h":65430,"l":64360,"c":64600},
{"d":"2026-07-16","o":64630,"h":64840,"l":63600,"c":63650},
{"d":"2026-07-17","o":63650,"h":64260,"l":62400,"c":63780},
{"d":"2026-07-18","o":63760,"h":64750,"l":63760,"c":64710},
{"d":"2026-07-19","o":64680,"h":64820,"l":64180,"c":64580},
{"d":"2026-07-20","o":64580,"h":65670,"l":63620,"c":65130},
{"d":"2026-07-21","o":65080,"h":66850,"l":65040,"c":66440},
{"d":"2026-07-22","o":66440,"h":66610,"l":65380,"c":65970},
{"d":"2026-07-23","o":65970,"h":66140,"l":64520,"c":64930},
{"d":"2026-07-24","o":64960,"h":65670,"l":63600,"c":63970},
{"d":"2026-07-25","o":63970,"h":64310,"l":63650,"c":64220},
{"d":"2026-07-26","o":64190,"h":65420,"l":64150,"c":65270},
{"d":"2026-07-27","o":65270,"h":65600,"l":63490,"c":63600},
{"d":"2026-07-28","o":63600,"h":63960,"l":62580,"c":63760},
{"d":"2026-07-29","o":63760,"h":64550,"l":63120,"c":63810},
{"d":"2026-07-30","o":63780,"h":65020,"l":63440,"c":64630},
{"d":"2026-07-31","o":64630,"h":65250,"l":62260,"c":62720},
{"d":"2026-08-01","o":62740,"h":63010,"l":62130,"c":62680},
{"d":"2026-08-02","o":62660,"h":63650,"l":62640,"c":63410},
{"d":"2026-08-03","o":63440,"h":63930,"l":62160,"c":63410},
{"d":"2026-08-04","o":63380,"h":64420,"l":63170,"c":63940},
{"d":"2026-08-05","o":63930,"h":64880,"l":63760,"c":64500},
{"d":"2026-08-06","o":64500,"h":64880,"l":63970,"c":64140},
{"d":"2026-08-07","o":64140,"h":65250,"l":63970,"c":64800},
{"d":"2026-08-08","o":64800,"h":65050,"l":64680,"c":64860},
{"d":"2026-08-09","o":64890,"h":65350,"l":64580,"c":64800},
{"d":"2026-08-10","o":64760,"h":65250,"l":63670,"c":63810},
{"d":"2026-08-11","o":63840,"h":64360,"l":63090,"c":63440},
{"d":"2026-08-12","o":63440,"h":64360,"l":63200,"c":63300},
{"d":"2026-08-13","o":63310,"h":63860,"l":62720,"c":63360},
{"d":"2026-08-14","o":63330,"h":63490,"l":62400,"c":62880},
{"d":"2026-08-15","o":62900,"h":63040,"l":62770,"c":62960},
{"d":"2026-08-16","o":62930,"h":63220,"l":62580,"c":62740},
{"d":"2026-08-17","o":62720,"h":64500,"l":62640,"c":64390},
{"d":"2026-08-18","o":64390,"h":64930,"l":63890,"c":64600},
{"d":"2026-08-19","o":64600,"h":69630,"l":64020,"c":68160}
],
"shades":[
{"kind":"range","d":"2025-11-06T07:00:00Z","d2":"2026-04-30T10:00:00Z","p":110860,"p2":61190},
{"kind":"drop","d":"2026-01-28T05:00:00Z","d2":"2026-02-06T00:00:00Z","p":89430,"p2":62070},
{"kind":"drop","d":"2026-04-15T05:00:00Z","d2":"2026-06-04T22:00:00Z","p":82950,"p2":59650},
{"kind":"base","d":"2025-11-20T05:00:00Z","d2":"2026-01-27T22:00:00Z","p":96710,"p2":83310},
{"kind":"base","d":"2026-02-06T05:00:00Z","d2":"2026-04-14T22:00:00Z","p":74570,"p2":62680},
{"kind":"base","d":"2026-06-05T05:00:00Z","d2":"2026-08-17T19:00:00Z","p":66350,"p2":57970}
],
"arrows":[
{"d":"2025-11-21T00:00:00Z","p":78280,"d2":"2026-01-28T10:00:00Z","p2":78280},
{"d":"2026-01-25T03:00:00Z","p":79070,"d2":"2026-01-28T10:00:00Z","p2":78280},
{"d":"2026-01-25T03:00:00Z","p":77490,"d2":"2026-01-28T10:00:00Z","p2":78280},
{"d":"2025-11-21T00:00:00Z","p":78480,"d2":"2025-11-21T00:00:00Z","p2":78090},
{"d":"2026-02-04T22:00:00Z","p":55900,"d2":"2026-04-14T10:00:00Z","p2":55900},
{"d":"2026-04-10T17:00:00Z","p":56410,"d2":"2026-04-14T10:00:00Z","p2":55900},
{"d":"2026-04-10T17:00:00Z","p":55400,"d2":"2026-04-14T10:00:00Z","p2":55900},
{"d":"2026-02-04T22:00:00Z","p":56040,"d2":"2026-02-04T22:00:00Z","p2":55760},
{"d":"2026-06-05T22:00:00Z","p":52340,"d2":"2026-08-17T03:00:00Z","p2":52340},
{"d":"2026-08-13T22:00:00Z","p":52840,"d2":"2026-08-17T03:00:00Z","p2":52340},
{"d":"2026-08-13T22:00:00Z","p":51890,"d2":"2026-08-17T03:00:00Z","p2":52340},
{"d":"2026-06-05T22:00:00Z","p":52750,"d2":"2026-06-05T22:00:00Z","p2":51970}
],
"boxes":[
{"d":"2025-10-15T16:00:00Z","d2":"2026-02-15T08:00:00Z","p":102300,"p2":99480},
{"d":"2026-01-07T05:00:00Z","d2":"2026-04-24T17:00:00Z","p":59170,"p2":57430},
{"d":"2026-05-19T17:00:00Z","d2":"2026-08-31T17:00:00Z","p":48310,"p2":46910},
{"d":"2026-01-20T12:00:00Z","d2":"2026-02-11T19:00:00Z","p":82500,"p2":79650},
{"d":"2026-04-30T12:00:00Z","d2":"2026-05-24T10:00:00Z","p":70650,"p2":68210}
],
"dateLabels":[
{"d":"2025-12-16T00:00:00Z","p":100890,"t":"November 21st 2025 - January 28th, 2026"},
{"d":"2026-03-01T22:00:00Z","p":58290,"t":"February 6th, 2026 - April 14th, 2026"},
{"d":"2026-07-10T17:00:00Z","p":47620,"t":"June 5th, 2026 - August 19th, 2026"}
],
"drops":[
{"d":"2026-01-31T14:00:00Z","p":81050,"t":"-32%"},
{"d":"2026-05-12T10:00:00Z","p":69430,"t":"- 28%"}
],
"days":[
{"d":"2025-12-23T22:00:00Z","p":75390,"t":"68 Days"},
{"d":"2026-03-11T22:00:00Z","p":54000,"t":"68 Days"},
{"d":"2026-07-09T19:00:00Z","p":50080,"t":"72 Days"}
],
"bars":[
{"d":"2025-12-24T22:00:00Z","p":80190,"t":"68 bars"},
{"d":"2026-07-12T00:00:00Z","p":53930,"t":"72 bars"}
]
},
"encoding":{
"x":{"field":"d","type":"temporal","title":null,
"scale":{"type":"utc","domain":["2025-05-08T17:30:00Z","2026-11-25T06:30:00Z"],"nice":false,"padding":0},
"axis":{"orient":"bottom","grid":false,"domain":false,"ticks":false,"labelPadding":-26,"labelBaseline":"middle","labelFontSize":24,"labelFont":"Inter","labelColor":"#131722","labelOverlap":false,"labelFlush":false,"labelBound":false,
"values":["2025-06-01T00:00:00Z","2025-07-01T00:00:00Z","2025-08-01T00:00:00Z","2025-09-01T00:00:00Z","2025-10-01T00:00:00Z","2025-11-01T00:00:00Z","2025-12-01T00:00:00Z","2026-01-01T00:00:00Z","2026-02-01T00:00:00Z","2026-03-01T00:00:00Z","2026-04-01T00:00:00Z","2026-05-01T00:00:00Z","2026-06-01T00:00:00Z","2026-07-01T00:00:00Z","2026-08-01T00:00:00Z","2026-09-01T00:00:00Z","2026-10-01T00:00:00Z"],
"labelExpr":"utcmonth(datum.value)==0 ? ''+utcyear(datum.value) : utcFormat(datum.value,'%b')",
"labelFontWeight":{"condition":{"test":"utcmonth(datum.value)==0","value":700},"value":400}}},
"y":{"field":"p","type":"quantitative","title":null,
"scale":{"type":"log","domain":[39960,149613],"nice":false},
"axis":{"orient":"right","grid":false,"domain":false,"ticks":false,"labelPadding":-22,"labelOffset":2,"labelAlign":"right","labelBaseline":"middle","labelFontSize":25,"labelFont":"Inter","labelColor":"#131722","labelOverlap":false,"labelFlush":false,"labelBound":false,"format":",.2f",
"values":[143000,138000,133000,128000,123000,119000,115000,111000,107000,103000,99000,95000,91000,87000,83000,80000,77000,74000,71000,68000,65000,63000,61000,59000,57000,55000,53000,51400,49650,48050,46450,45050,43650,42350]}}
},
"layer":[
{"data":{"name":"shades"},"mark":{"type":"rect"},
"encoding":{"x2":{"field":"d2"},"y2":{"field":"p2"},
"color":{"field":"kind","type":"nominal","legend":null,"scale":{"domain":["range","drop","base"],"range":["#fcfcfc","#fdf4ec","#f0f7f1"]}}}},
{"data":{"values":[{"d":"2026-01-31T05:00:00Z","p":81780}]},
"mark":{"type":"point","filled":false,"size":266000,"opacity":0.2,"stroke":"white","strokeWidth":14,"shape":"M.067,-.733C-.45,-.8,-.893,-.42,-.893,0C-.893,.42,-.45,.8,.067,.733C-.25,.55,-.467,.3,-.467,0C-.467,-.3,-.25,-.55,.067,-.733C.35,-.78,.72,-.62,.9,-.307L.47,-.307C.37,-.42,.2,-.62,.067,-.733M.067,.733C.35,.78,.72,.62,.9,.307L.47,.307C.37,.42,.2,.62,.067,.733"}},
{"data":{"name":"candles"},"mark":{"type":"rule","strokeWidth":1.7},
"encoding":{"y":{"field":"h","type":"quantitative","title":null},"y2":{"field":"l"},
"color":{"condition":{"test":"datum.c>=datum.o","value":"#4caf50"},"value":"#f23645"}}},
{"data":{"name":"candles"},"mark":{"type":"bar","size":6},
"encoding":{"y":{"field":"o","type":"quantitative","title":null},"y2":{"field":"c"},
"color":{"condition":{"test":"datum.c>=datum.o","value":"#4caf50"},"value":"#f23645"}}},
{"data":{"name":"arrows"},"mark":{"type":"rule","strokeWidth":4.5,"color":"#3f4147","strokeCap":"round"},
"encoding":{"x2":{"field":"d2"},"y2":{"field":"p2"}}},
{"data":{"name":"boxes"},"mark":{"type":"rect","fill":"white","stroke":"black","strokeWidth":4.5},
"encoding":{"x2":{"field":"d2"},"y2":{"field":"p2"}}},
{"data":{"name":"dateLabels"},"mark":{"type":"text","font":"Inter","fontWeight":700,"fontSize":39.5,"dy":3,"color":"black","align":"center","baseline":"middle"},
"encoding":{"text":{"field":"t"}}},
{"data":{"name":"drops"},"mark":{"type":"text","font":"Inter","fontWeight":700,"fontSize":46,"dy":2,"color":"#f23645","align":"center","baseline":"middle"},
"encoding":{"text":{"field":"t"}}},
{"data":{"name":"days"},"mark":{"type":"text","font":"Inter","fontWeight":700,"fontSize":47,"dy":3,"color":"#4caf50","align":"center","baseline":"middle"},
"encoding":{"text":{"field":"t"}}},
{"data":{"name":"bars"},"mark":{"type":"text","font":"Inter","fontWeight":400,"fontSize":23,"dy":2,"color":"#9a9a9a","align":"center","baseline":"middle"},
"encoding":{"text":{"field":"t"}}},
{"data":{"values":[{"d":"2025-06-07T22:00:00Z","d2":"2025-07-12T07:00:00Z","p":139100,"p2":123770}]},"mark":{"type":"rect","fill":"black"},
"encoding":{"x2":{"field":"d2"},"y2":{"field":"p2"}}},
{"data":{"values":[{"d":"2025-06-25T03:00:00Z","p":131190}]},
"mark":{"type":"point","filled":false,"size":10000,"opacity":1,"stroke":"white","strokeWidth":5.5,"shape":"M.067,-.733C-.45,-.8,-.893,-.42,-.893,0C-.893,.42,-.45,.8,.067,.733C-.25,.55,-.467,.3,-.467,0C-.467,-.3,-.25,-.55,.067,-.733C.35,-.78,.72,-.62,.9,-.307L.47,-.307C.37,-.42,.2,-.62,.067,-.733M.067,.733C.35,.78,.72,.62,.9,.307L.47,.307C.37,.42,.2,.62,.067,.733"}},
{"data":{"values":[{"d":"2025-07-23T03:00:00Z","p":131460,"t":"Bear Market Ranges"}]},
"mark":{"type":"text","font":"Inter","fontWeight":700,"fontSize":75.5,"color":"black","align":"left","baseline":"middle"},
"encoding":{"text":{"field":"t"}}},
{"data":{"values":[{"d":"2026-10-03T00:00:00Z","p":85730}]},
"mark":{"type":"point","filled":true,"size":71289,"opacity":1,"fill":"#f7931a","stroke":null,"shape":"circle"}},
{"data":{"values":[{"d":"2026-10-03T00:00:00Z","p":85730}]},
"mark":{"type":"point","filled":true,"size":71289,"opacity":1,"fill":"white","stroke":null,"shape":"M-.3125,-.525L-.0875,-.47L-.0375,-.65L.0625,-.6225L.0175,-.445L.1125,-.425L.1625,-.6L.2675,-.575L.22,-.39C.4125,-.32,.475,-.1825,.4375,-.1075C.4125,-.02,.3625,.0125,.3125,.0275C.4125,.08,.45,.1925,.4,.2925C.3375,.4425,.1875,.4675,.0125,.4375L-.03,.6175L-.1375,.5925L-.0925,.4125L-.175,.3875L-.225,.5675L-.3325,.5425L-.2925,.3625L-.5125,.305L-.4575,.18L-.375,.1925C-.325,.1975,-.3125,.1675,-.3075,.1425L-.1925,-.3325C-.1875,-.3775,-.225,-.395,-.3375,-.42ZM-.0125,-.3125L-.0575,-.1125C.0625,-.0825,.2125,-.0575,.2325,-.17C.2375,-.2575,.0875,-.295,-.0125,-.3125ZM-.0875,.0175L-.145,.2475C-.0125,.28,.175,.3175,.195,.18C.2075,.0675,.0375,.0425,-.0875,.0175Z"}},
{"data":{"values":[{"d":"2026-11-01T02:00:00Z","d2":"2026-11-24T02:00:00Z","p":148930,"p2":145190}]},
"mark":{"type":"rect","fill":"white","stroke":"#f0f1f3","strokeWidth":1.5,"cornerRadius":8},
"encoding":{"x2":{"field":"d2"},"y2":{"field":"p2"}}},
{"data":{"values":[{"d":"2026-11-03T22:00:00Z","p":147020,"t":"USD"}]},
"mark":{"type":"text","font":"Inter","fontSize":24,"color":"#131722","align":"left","baseline":"middle"},
"encoding":{"text":{"field":"t"}}},
{"data":{"values":[{"d":"2025-05-08T17:30:00Z","p":151190,"t":"CryptoCon_  created with TradingView.com, Aug 19, 2026 15:23 UTC-4"}]},
"mark":{"type":"text","font":"Inter","fontSize":24,"color":"#131722","align":"left","baseline":"middle"},
"encoding":{"text":{"field":"t"}}},
{"data":{"values":[{"d":"2025-05-13T17:00:00Z","p":38820}]},
"mark":{"type":"point","filled":true,"size":3600,"opacity":1,"fill":"#131313","stroke":null,"shape":"M-1,-.52L-.19,-.52L-.19,.52L-.593,.52L-.593,-.117L-1,-.117ZM-.07,-.31A.19,.19,0,1,0,.31,-.31A.19,.19,0,1,0,-.07,-.31ZM.6,-.52L1,-.52L.57,.52L.15,.52Z"}},
{"data":{"values":[{"d":"2025-05-20T05:00:00Z","p":38820,"t":"TradingView"}]},
"mark":{"type":"text","font":"Inter","fontWeight":700,"fontSize":39,"color":"#131313","align":"left","baseline":"middle"},
"encoding":{"text":{"field":"t"}}}
]
}
